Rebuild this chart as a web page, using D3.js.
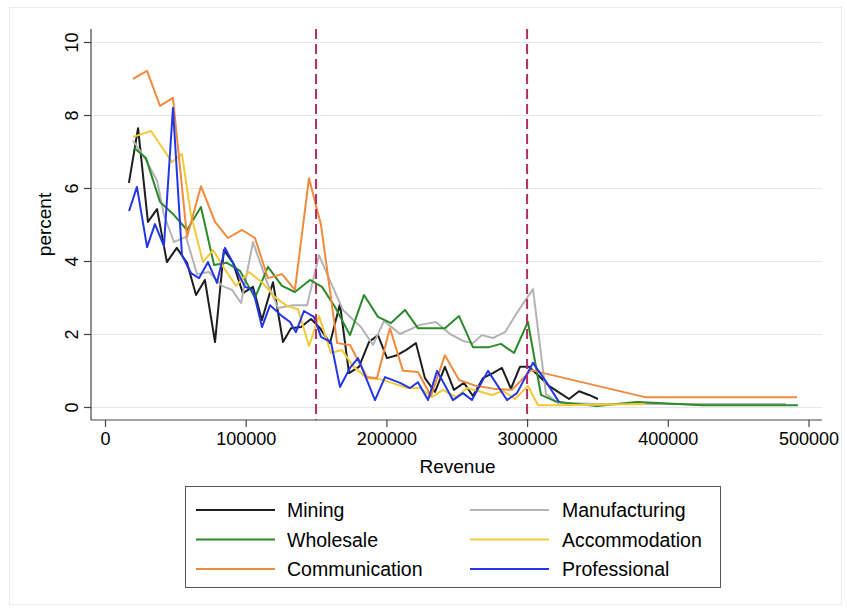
<!DOCTYPE html>
<html>
  <head>
    <meta charset="utf-8">
    <title>Percent by revenue</title>
    <style>
      body {
        overflow: hidden;
        margin: 0px;
        background: white;
      }

      text {
        font-family: "Liberation Sans", Arial, Helvetica, sans-serif;
        fill: black;
      }

      .grid-row {
        stroke: #e6e6e6;
        stroke-width: 1px;
        shape-rendering: crispEdges;
      }

      .axis path, .axis line {
        stroke: #444;
        stroke-width: 1.2px;
      }

      .cutoff {
        stroke: #b22d62;
        stroke-width: 2px;
        stroke-dasharray: 10 5;
      }

      .series {
        fill: none;
        stroke-width: 2px;
        stroke-linejoin: round;
      }
    </style>
  </head>
  <body>
    <svg id="container" width="847" height="611"></svg>
    <script src="https://cdn.jsdelivr.net/npm/d3@7"></script>

    <script type="text/javascript">
      // [revenue, percent]
      var mining = [[17000,6.14],[23500,7.64],[30500,5.07],[37000,5.42],[44000,3.97],[51000,4.36],
        [58300,3.95],[64700,3.07],[71000,3.48],[78200,1.78],[84500,4.30],[91000,3.95],[98000,3.12],
        [105200,3.29],[111500,2.38],[119400,3.42],[126500,1.78],[132200,2.16],[139300,2.19],
        [146400,2.41],[152800,2.16],[159900,1.75],[167000,2.82],[173400,0.93],[180500,1.10],
        [187600,1.78],[194000,1.97],[200400,1.34],[207500,1.42],[213900,1.56],[221000,1.75],
        [227400,0.79],[234500,0.41],[241600,1.10],[248000,0.47],[255100,0.66],[261500,0.30],
        [268600,0.79],[275700,0.93],[282100,1.07],[288500,0.50],[294900,1.10],[301300,1.10],
        [308400,0.85],[315500,0.58],[322600,0.40],[329800,0.22],[336900,0.43],[344000,0.33],[350400,0.22]];

      var manufacturing = [[19900,7.30],[29100,6.77],[37000,6.20],[41900,5.26],[49000,4.52],
        [57600,4.66],[65400,3.64],[73900,3.70],[83200,3.32],[90300,3.21],[96700,2.85],[105200,4.52],
        [115100,3.42],[123000,2.71],[133600,2.79],[143600,2.79],[152100,4.16],[160600,3.40],
        [169100,2.66],[181900,2.19],[190500,1.70],[198300,2.36],[209700,2.00],[223900,2.25],
        [235200,2.33],[245200,2.00],[254400,1.81],[261500,1.75],[267900,1.97],[275700,1.89],
        [284300,2.05],[292800,2.58],[299900,2.99],[304200,3.23],[313400,0.36],[321900,0.11],
        [351800,0.08],[422900,0.08],[484000,0.08]];

      var wholesale = [[20600,7.10],[29100,6.82],[39100,5.62],[48300,5.29],[58300,4.85],
        [68200,5.48],[77500,3.89],[86700,3.95],[95900,3.73],[106600,2.99],[115800,3.84],
        [125800,3.32],[135000,3.15],[145700,3.48],[154200,3.29],[163500,2.74],[174100,1.97],
        [184100,3.07],[194000,2.47],[203300,2.30],[213200,2.66],[222400,2.16],[232400,2.16],
        [241600,2.16],[251600,2.49],[261500,1.64],[272900,1.64],[281400,1.73],[290700,1.48],
        [300600,2.33],[309900,0.33],[319800,0.16],[328300,0.11],[349700,0.03],[378100,0.14],
        [425000,0.05],[492500,0.05]];

      var accommodation = [[19900,7.40],[32700,7.56],[47600,6.71],[54700,6.93],[61100,5.26],
        [69600,3.97],[76800,4.30],[84600,3.81],[93100,3.32],[102300,3.70],[111600,3.42],
        [120800,3.01],[129300,2.77],[137200,2.68],[145000,1.67],[152100,2.49],[160600,1.48],
        [168400,1.56],[176300,1.12],[186200,0.79],[194700,0.77],[204000,0.66],[214600,0.52],
        [223900,0.52],[232400,0.27],[240200,0.47],[249500,0.27],[257300,0.52],[265100,0.44],
        [275000,0.33],[282900,0.44],[291400,0.22],[300600,0.58],[307700,0.05],[323400,0.05],
        [383800,0.08]];

      var communication = [[19900,8.99],[29850,9.21],[39100,8.25],[48300,8.47],[58300,4.66],
        [68200,6.05],[78200,5.07],[87400,4.63],[97400,4.85],[106600,4.63],[115800,3.53],
        [125800,3.64],[135000,3.21],[145000,6.27],[153500,4.99],[165000,1.75],[174100,1.70],
        [186200,0.82],[193300,0.79],[202500,2.16],[211800,0.99],[222400,0.96],[231700,0.30],
        [241600,1.42],[251600,0.74],[263700,0.58],[277900,0.49],[289300,0.47],[302800,1.01],
        [383800,0.27],[491800,0.27]];

      var professional = [[17100,5.37],[22700,6.03],[29900,4.38],[35500,5.01],[41900,4.41],
        [48300,8.19],[54700,4.16],[61100,3.67],[66800,3.53],[73200,3.97],[79600,3.40],[85300,4.36],
        [92400,3.84],[99500,3.29],[105200,3.21],[111600,2.19],[117300,2.79],[125800,2.49],
        [131500,2.33],[135700,2.05],[141400,2.63],[148500,2.47],[153500,1.92],[160600,1.78],
        [167000,0.55],[174100,1.07],[179800,1.34],[191900,0.19],[199000,0.82],[209700,0.66],
        [216800,0.52],[222400,0.68],[229600,0.19],[236000,0.99],[247300,0.19],[254400,0.38],
        [260800,0.19],[272200,0.99],[285700,0.19],[292800,0.38],[304200,1.21],[314100,0.66],
        [322600,0.14]];

      var seriesNames = ['Mining', 'Manufacturing', 'Wholesale', 'Accommodation', 'Communication', 'Professional'];
      var seriesColors = ['#1e1e1e', '#b4b4b4', '#2b8a2b', '#f3c93a', '#f08a3c', '#2336e8'];
      var seriesData = [mining, manufacturing, wholesale, accommodation, communication, professional];

      var xTicks = [0, 100000, 200000, 300000, 400000, 500000];
      var yTicks = [0, 2, 4, 6, 8, 10];
      var cutoffs = [150000, 300000];

      var svg = d3.select('#container');

      var x = d3.scaleLinear().domain([0, 500000]).range([105, 808.5]),
        y = d3.scaleLinear().domain([0, 10]).range([407, 42]);

      var plot = { left: 91, right: 822, top: 29, bottom: 420 };

      // outer frame
      svg.append('rect')
        .attr('x', 9.5).attr('y', 7.5)
        .attr('width', 832).attr('height', 597)
        .attr('fill', 'white')
        .attr('stroke', '#ebebeb');

      // grid
      svg.append('g').selectAll('line')
        .data(yTicks)
        .enter().append('line')
        .attr('class', 'grid-row')
        .attr('x1', plot.left).attr('x2', plot.right)
        .attr('y1', d => Math.round(y(d)) + 0.5).attr('y2', d => Math.round(y(d)) + 0.5);

      // y axis
      var yAxis = svg.append('g')
        .attr('class', 'axis')
        .attr('transform', 'translate(' + plot.left + ',0)')
        .call(d3.axisLeft(y).tickValues(yTicks).tickSize(7).tickSizeOuter(0).tickFormat(d3.format('d')));
      yAxis.select('.domain').attr('d', 'M0,' + plot.top + 'V' + plot.bottom);
      yAxis.selectAll('text')
        .attr('x', 0).attr('y', -13).attr('dy', null)
        .attr('text-anchor', 'middle')
        .attr('transform', 'rotate(-90)')
        .style('font-size', '18px');

      // x axis
      var xAxis = svg.append('g')
        .attr('class', 'axis')
        .attr('transform', 'translate(0,' + plot.bottom + ')')
        .call(d3.axisBottom(x).tickValues(xTicks).tickSize(7).tickSizeOuter(0).tickFormat(d3.format('d')));
      xAxis.select('.domain').attr('d', 'M' + plot.left + ',0H' + plot.right);
      xAxis.selectAll('text')
        .attr('y', 25).attr('dy', null)
        .style('font-size', '18px');

      // axis titles
      svg.append('text')
        .attr('transform', 'translate(51,' + ((y(0) + y(10)) / 2) + ') rotate(-90)')
        .attr('text-anchor', 'middle')
        .style('font-size', '19px')
        .text('percent');

      svg.append('text')
        .attr('x', (plot.left + plot.right) / 2 + 1)
        .attr('y', 473)
        .attr('text-anchor', 'middle')
        .style('font-size', '19px')
        .text('Revenue');

      // series lines
      var line = d3.line()
        .x(d => x(d[0]))
        .y(d => y(d[1]));

      svg.append('g').selectAll('path')
        .data(seriesData)
        .enter().append('path')
        .attr('class', 'series')
        .attr('stroke', (d, i) => seriesColors[i])
        .attr('d', line);

      // cutoff lines
      svg.append('g').selectAll('line')
        .data(cutoffs)
        .enter().append('line')
        .attr('class', 'cutoff')
        .attr('x1', d => x(d)).attr('x2', d => x(d))
        .attr('y1', plot.top).attr('y2', plot.bottom);

      // legend
      var legend = svg.append('g');
      legend.append('rect')
        .attr('x', 185.5).attr('y', 486.5)
        .attr('width', 535).attr('height', 101)
        .attr('fill', 'white')
        .attr('stroke', '#555');

      var item = legend.selectAll('.item')
        .data(seriesNames)
        .enter().append('g')
        .attr('class', 'item')
        .attr('transform', (d, i) => 'translate(' + (i % 2 ? 470 : 196) + ',' + (510 + Math.floor(i / 2) * 29.5) + ')');

      item.append('line')
        .attr('x1', 0).attr('x2', 79)
        .attr('stroke', (d, i) => seriesColors[i])
        .attr('stroke-width', 1.8);

      item.append('text')
        .attr('x', (d, i) => i % 2 ? 92 : 91)
        .attr('y', 7)
        .style('font-size', '19.5px')
        .text(d => d);
    </script>
  </body>
</html>
